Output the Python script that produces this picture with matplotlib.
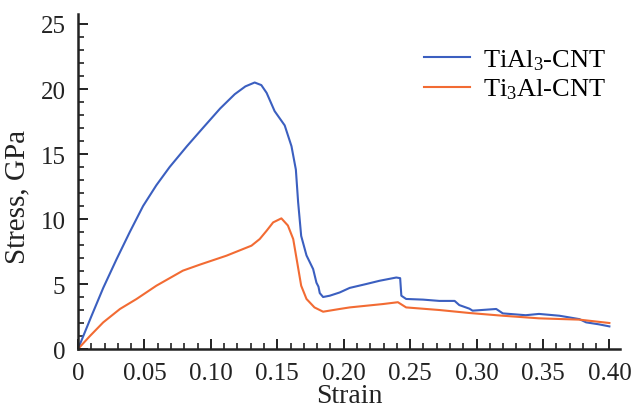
#!/usr/bin/env python3

import numpy as np
import matplotlib
matplotlib.use("Agg")
import matplotlib.pyplot as plt
from matplotlib.ticker import MultipleLocator, FuncFormatter

##############################
# DATA
##############################

strain_tial3 = [0.0, 0.010, 0.019, 0.029, 0.039, 0.049, 0.059, 0.069, 0.082,
                0.094, 0.107, 0.118, 0.126, 0.133, 0.138, 0.142, 0.148,
                0.1556, 0.1607, 0.164, 0.1657, 0.168, 0.172, 0.177, 0.1795,
                0.181, 0.182, 0.1845, 0.1895, 0.197, 0.2045, 0.217, 0.227,
                0.2396, 0.2425, 0.2434, 0.247, 0.2597, 0.272, 0.2835, 0.287,
                0.2947, 0.297, 0.3148, 0.3198, 0.337, 0.347, 0.3624, 0.3774,
                0.3825, 0.392, 0.400]
stress_tial3 = [0.0, 2.5, 4.7, 6.9, 9.0, 11.0, 12.6, 14.0, 15.6,
                17.0, 18.5, 19.6, 20.2, 20.5, 20.3, 19.7, 18.3,
                17.2, 15.6, 13.8, 11.3, 8.7, 7.2, 6.15, 5.1,
                4.8, 4.3, 4.0, 4.1, 4.35, 4.7, 5.0, 5.25,
                5.5, 5.45, 4.1, 3.85, 3.8, 3.7, 3.7, 3.38,
                3.1, 2.95, 3.08, 2.74, 2.6, 2.7, 2.56, 2.3,
                2.05, 1.9, 1.74]

strain_ti3al = [0.0, 0.009, 0.019, 0.0316, 0.0441, 0.059, 0.079, 0.092,
                0.1118, 0.1306, 0.1368, 0.142, 0.1469, 0.1531, 0.158, 0.162,
                0.165, 0.168, 0.172, 0.178, 0.1845, 0.197, 0.2045, 0.2296,
                0.2408, 0.247, 0.272, 0.2947, 0.3198, 0.347, 0.3774, 0.387,
                0.400]
stress_ti3al = [0.0, 1.0, 2.05, 3.08, 3.85, 4.87, 6.03, 6.5,
                7.18, 7.95, 8.46, 9.1, 9.74, 10.05, 9.5, 8.46,
                6.67, 4.87, 3.85, 3.2, 2.87, 3.08, 3.2, 3.46,
                3.6, 3.2, 3.0, 2.77, 2.56, 2.36, 2.26, 2.15,
                2.0]

labels = ["TiAl$_3$-CNT", "Ti$_3$Al-CNT"]
colors = ["#3b5fc0", "#f26b33"]

##############################
# PLOT
##############################

plt.rcParams['font.family'] = ['Liberation Serif', 'DejaVu Serif']
plt.rcParams['mathtext.fontset'] = 'custom'
plt.rcParams['mathtext.rm'] = 'Liberation Serif'
plt.rcParams['mathtext.it'] = 'Liberation Serif'

fig = plt.figure(figsize=(6.33, 4.10), dpi=100)
ax = fig.add_axes([0.1232, 0.1463, 0.9795 - 0.1232, 0.9644 - 0.1463])

ax.plot(strain_tial3, stress_tial3, color=colors[0], lw=1.5, label=labels[0])
ax.plot(strain_ti3al, stress_ti3al, color=colors[1], lw=1.5, label=labels[1])

ax.set_xlim(0, 0.408)
ax.set_ylim(0, 25.8)

ax.xaxis.set_major_locator(MultipleLocator(0.05))
ax.xaxis.set_minor_locator(MultipleLocator(0.01))
ax.yaxis.set_major_locator(MultipleLocator(5))
ax.yaxis.set_minor_locator(MultipleLocator(1))
ax.xaxis.set_major_formatter(FuncFormatter(lambda v, p: "0" if abs(v) < 1e-9 else "%.2f" % v))

for side in ['top', 'right']:
    ax.spines[side].set_visible(False)
for side in ['left', 'bottom']:
    ax.spines[side].set_linewidth(1.8)
    ax.spines[side].set_color('#222222')

ax.tick_params(which='major', direction='in', length=7, width=1.4, color='#222222',
               labelsize=18, labelcolor='#222222')
ax.tick_params(which='minor', direction='in', length=4, width=1.2, color='#222222')
ax.tick_params(axis='y', pad=9)
ax.tick_params(axis='x', pad=9)

ax.set_xlabel("Strain", fontsize=20, color='#222222')
ax.xaxis.set_label_coords(0.5, -0.1)
ax.set_ylabel("Stress, GPa", fontsize=21, color='#222222')
ax.yaxis.set_label_coords(-0.088, 0.455)

ax.legend(loc='upper left', bbox_to_anchor=(0.67, 0.883), bbox_transform=fig.transFigure,
          frameon=False, fontsize=19, handlelength=1.75, handletextpad=0.5,
          borderpad=0, borderaxespad=0, labelspacing=0.2)

fig.savefig("out.png", dpi=100)
